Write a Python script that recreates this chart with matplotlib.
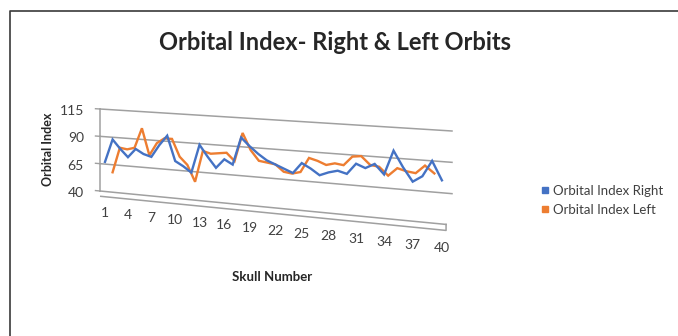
import numpy as np
import matplotlib.pyplot as plt
import matplotlib.transforms as mtransforms
from matplotlib.lines import Line2D

plt.rcParams['font.family'] = ['Lato', 'DejaVu Sans']

# Orbital index per skull (1..40)
skull = np.arange(1, 41)
right_idx = [67, 88, 80, 73, 81, 77, 75, 86, 95, 73,
             69, 64, 89, 79, 70, 78, 74, 98, 91, 85,
             80, 77, 74, 71, 80, 76, 71, 74, 76, 74,
             83, 80, 84, 76, 96, 83, 72, 77, 90, 75]
left_idx = [57, 81, 80, 82, 101, 76, 88, 93, 93, 77,
            70, 55, 84, 82, 83, 84, 77, 103, 88, 79,
            78, 77, 71, 70, 72, 85, 83, 80, 82, 81,
            89, 90, 83, 82, 75, 82, 80, 79, 86, 80]
y_ticks = [40, 65, 90, 115]
x_ticks = list(range(1, 41, 3))

BLUE = '#4472C4'
ORANGE = '#ED7D31'
GRID = '#a0a0a0'
W, H = 678, 336


class Homography(mtransforms.Transform):
    """Projective map from (skull, index) to canvas pixels."""
    input_dims = 2
    output_dims = 2
    is_separable = False
    has_inverse = True

    def __init__(self, mat):
        super().__init__()
        self.mat = np.asarray(mat, float)

    def transform_non_affine(self, values):
        v = np.asarray(values, float).reshape(-1, 2)
        p = np.column_stack([v, np.ones(len(v))]) @ self.mat.T
        return p[:, :2] / p[:, 2:3]

    def inverted(self):
        return Homography(np.linalg.inv(self.mat))


def fit_homography(src, dst):
    rows, rhs = [], []
    for (x, y), (u, v) in zip(src, dst):
        rows.append([x, y, 1, 0, 0, 0, -u * x, -u * y]); rhs.append(u)
        rows.append([0, 0, 0, x, y, 1, -v * x, -v * y]); rhs.append(v)
    h = np.linalg.solve(np.array(rows, float), np.array(rhs, float))
    return np.append(h, 1).reshape(3, 3)


# back wall in perspective: right end is nearer, so it opens up to the right
i_lo, i_hi = 0.34, 41.02
wall_mat = fit_homography(
    [(i_lo, 115), (i_hi, 115), (i_lo, 40), (i_hi, 40)],
    [(100, 109), (452, 131), (100, 191), (452, 225)])

fig = plt.figure(figsize=(W / 100, H / 100), dpi=100)
ax = fig.add_axes([0, 0, 1, 1])
ax.set_axis_off()

to_fig = mtransforms.Affine2D().scale(1 / W, -1 / H).translate(0, 1) + fig.transFigure
wall = Homography(wall_mat) + to_fig
# second series sits one row further back, pulled slightly toward the centre
back_row = (Homography(wall_mat)
            + mtransforms.Affine2D().translate(-274, -160).scale(0.955).translate(274, 160)
            + to_fig)

# chart border (top and left edges)
fig.add_artist(Line2D([10 / W, 10 / W, 1], [0, 1 - 11 / H, 1 - 11 / H],
                      transform=fig.transFigure, color='#3a3a3a', lw=1.2))

# gridlines, wall edge and floor
for v in y_ticks:
    end = i_hi - 0.6 if v == 40 else i_hi
    ax.plot([i_lo, end], [v, v], color=GRID, lw=1.1, transform=wall, clip_on=False)
    ax.plot([i_lo - 0.6, i_lo], [v, v], color=GRID, lw=1.0, transform=wall, clip_on=False)
ax.plot([i_lo, i_lo], [40, 115], color=GRID, lw=1.1, transform=wall, clip_on=False)
ax.plot([i_lo + 0.1, i_hi - 0.6, i_hi - 0.6], [35.2, 35.2, 40], color=GRID, lw=1.1,
        transform=wall, clip_on=False)

# series
ax.plot(skull, left_idx, color=ORANGE, lw=1.7, transform=back_row, clip_on=False,
        solid_joinstyle='miter')
ax.plot(skull, right_idx, color=BLUE, lw=1.7, transform=wall, clip_on=False,
        solid_joinstyle='miter')

# tick labels
ylab_off = mtransforms.ScaledTranslation(-16 / 100, -2 / 100, fig.dpi_scale_trans)
for v in y_ticks:
    ax.text(i_lo, v, str(v), transform=wall + ylab_off, ha='right', va='center',
            fontsize=10, color='#404040')
for i in x_ticks:
    ax.text(i, 20.5, str(i), transform=wall, ha='center', va='center',
            fontsize=10, color='#404040')

# titles
fig.text(335 / W, 1 - 42 / H, 'Orbital Index- Right & Left Orbits', ha='center',
         va='center', fontsize=17, fontweight='bold', color='#262626')
fig.text(48 / W, 1 - 149 / H, 'Orbital Index', rotation=90, ha='center', va='center',
         fontsize=9, fontweight='bold', color='#262626')
fig.text(272 / W, 1 - 277 / H, 'Skull Number', ha='center', va='center',
         fontsize=9.5, fontweight='bold', color='#262626')

handles = [Line2D([], [], marker='s', ls='', color=BLUE, ms=5, label='Orbital Index Right'),
           Line2D([], [], marker='s', ls='', color=ORANGE, ms=5, label='Orbital Index Left')]
fig.legend(handles=handles, loc='upper left', bbox_to_anchor=(532 / W, 1 - 178 / H),
           frameon=False, fontsize=9.5, handletextpad=0.1, handlelength=1.0,
           labelspacing=0.55, borderpad=0, labelcolor='#404040')

fig.savefig('out.png', dpi=100)
